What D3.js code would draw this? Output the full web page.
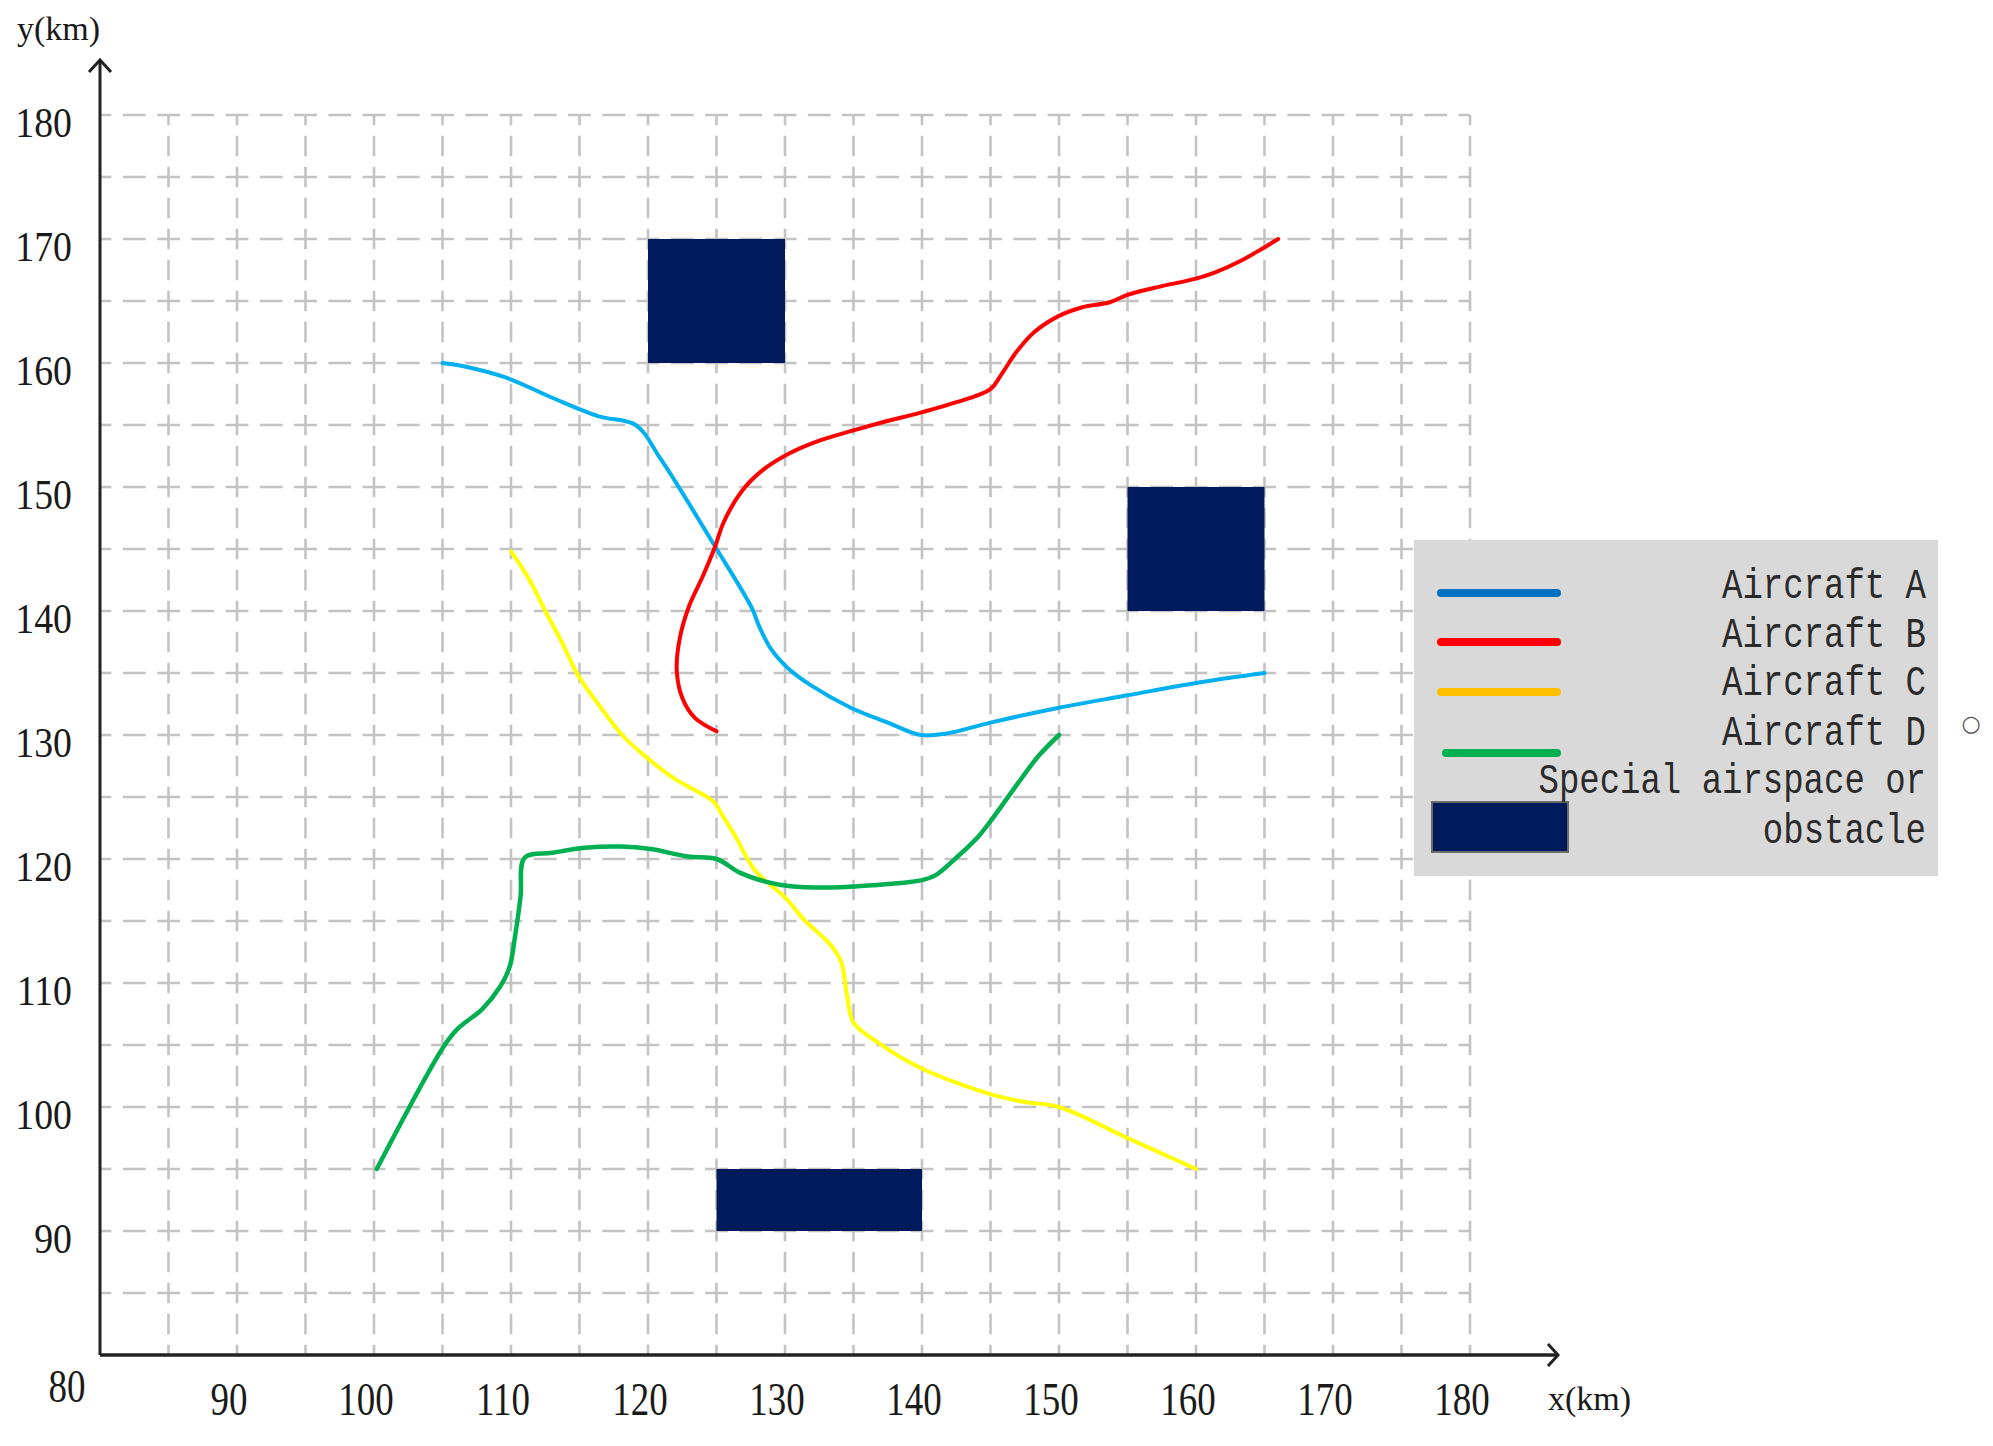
<!DOCTYPE html>
<html>
<head>
<meta charset="utf-8">
<script src="https://cdn.jsdelivr.net/npm/d3@7/dist/d3.min.js"></script>
<style>
  body { margin: 0; background: #fff; }
  .tick-label { font-family: "Liberation Serif", "DejaVu Serif", serif; fill: #1a1a1a; }
  .legend-text { font-family: "Liberation Mono", "DejaVu Sans Mono", monospace; fill: #2a2a2a; }
</style>
</head>
<body>
<div id="chart"></div>
<script>
var width = 1993, height = 1446;

// tick labels
var xTicks = [90, 100, 110, 120, 130, 140, 150, 160, 170, 180];
var yTicks = [90, 100, 110, 120, 130, 140, 150, 160, 170, 180];
var gridStep = 5;

// flight paths (km)
var aX = [105, 106.7, 109.7, 113.0, 116.4, 119.1, 120.9, 124.9, 127.6, 128.1, 129.0, 130.3, 131.9, 134.8, 137.5, 139.9, 141.7, 145.0, 150.0, 155.0, 160.0, 165.0];
var aY = [160, 159.7, 158.8, 157.2, 155.7, 155.0, 152.3, 145.2, 140.2, 138.8, 136.9, 135.3, 134.0, 132.2, 131.0, 130.0, 130.1, 131.0, 132.2, 133.2, 134.2, 135.0];

var bX = [125.0, 123.4, 122.5, 122.1, 122.3, 123.0, 124.0, 124.9, 125.5, 126.8, 128.3, 130.3, 132.4, 134.8, 137.4, 139.9, 142.4, 145.0, 145.75, 146.9, 148.2, 150.0, 151.7, 153.7, 155.0, 157.5, 160.0, 161.4, 163.2, 164.8, 166.0];
var bY = [130.3, 131.4, 133.0, 135.2, 137.7, 140.4, 142.8, 145.2, 147.1, 149.6, 151.3, 152.7, 153.7, 154.5, 155.3, 156.0, 156.8, 157.9, 159.0, 160.9, 162.5, 163.8, 164.5, 164.9, 165.5, 166.2, 166.8, 167.3, 168.2, 169.2, 170.0];

var cX = [110, 111.3, 112.5, 113.7, 114.9, 116.5, 118.2, 120.0, 121.9, 124.0, 124.8, 125.5, 126.4, 127.8, 130.0, 131.4, 133.3, 134.1, 134.5, 135.0, 136.8, 139.8, 142.4, 145.1, 147.5, 150.0, 155.0, 160.0];
var cY = [144.8, 142.6, 140.0, 137.5, 134.8, 132.3, 129.9, 128.1, 126.5, 125.2, 124.6, 123.4, 121.8, 119.1, 116.9, 115.1, 113.1, 111.7, 109.2, 106.8, 105.2, 103.2, 102.0, 101.0, 100.4, 100.0, 97.5, 95.0];

var dX = [100.2, 105.1, 106.1, 107.9, 109.2, 109.9, 110.3, 110.7, 111.0, 113.0, 115.4, 118.0, 120.2, 122.9, 125.0, 126.7, 128.5, 130.4, 133.3, 135.3, 137.8, 140.0, 141.0, 142.6, 144.1, 145.1, 146.8, 148.5, 150.0];
var dY = [95.0, 104.9, 106.3, 107.9, 109.7, 111.3, 113.8, 117.0, 120.1, 120.5, 120.9, 121.0, 120.8, 120.2, 120.0, 118.9, 118.2, 117.8, 117.7, 117.8, 118.0, 118.3, 118.7, 120.2, 121.8, 123.2, 125.8, 128.3, 130.0];

// special airspace / obstacles
var obsX0 = [120, 155, 125];
var obsX1 = [130, 165, 140];
var obsY0 = [160, 140, 90];
var obsY1 = [170, 150, 95];

var seriesNames = ["Aircraft A", "Aircraft B", "Aircraft C", "Aircraft D"];
var plotColors = ["#00b0f0", "#ff0000", "#ffff00", "#00b050"];
var legendColors = ["#0070c0", "#ff0000", "#ffc000", "#00b050"];
var obstacleColor = "#011a5b";

var svg = d3.select("#chart").append("svg")
    .attr("width", width)
    .attr("height", height);

var x = d3.scaleLinear().domain([80, 180]).range([100, 1470]);
var y = d3.scaleLinear().domain([80, 180]).range([1355, 115]);

// dashed grid, drawn cell by cell so dashes cross at the grid points
function dash(L) {
    return [L / 6, L / 6, L / 3, L / 6, L / 6, L].join(" ");
}
var gx = d3.range(80, 181, gridStep), gy = d3.range(80, 181, gridStep);
var grid = svg.append("g").attr("stroke", "#c3c3c3").attr("stroke-width", 2.6);
gy.slice(1).forEach(function (yv) {
    for (var i = 0; i < gx.length - 1; i++) {
        var L = x(gx[i + 1]) - x(gx[i]);
        grid.append("line")
            .attr("x1", x(gx[i])).attr("x2", x(gx[i + 1]))
            .attr("y1", y(yv)).attr("y2", y(yv))
            .attr("stroke-dasharray", dash(L));
    }
});
gx.slice(1).forEach(function (xv) {
    for (var i = 0; i < gy.length - 1; i++) {
        var L = y(gy[i]) - y(gy[i + 1]);
        grid.append("line")
            .attr("x1", x(xv)).attr("x2", x(xv))
            .attr("y1", y(gy[i])).attr("y2", y(gy[i + 1]))
            .attr("stroke-dasharray", dash(L));
    }
});

// obstacles
svg.append("g").selectAll("rect")
    .data(obsX0)
    .enter().append("rect")
    .attr("x", function (d, i) { return x(obsX0[i]); })
    .attr("y", function (d, i) { return y(obsY1[i]); })
    .attr("width", function (d, i) { return x(obsX1[i]) - x(obsX0[i]); })
    .attr("height", function (d, i) { return y(obsY0[i]) - y(obsY1[i]); })
    .attr("fill", obstacleColor);

// flight paths
var paths = [[aX, aY], [bX, bY], [cX, cY], [dX, dY]];
var line = d3.line()
    .x(function (d) { return x(d[0]); })
    .y(function (d) { return y(d[1]); })
    .curve(d3.curveCatmullRom.alpha(0.5));

svg.append("g").selectAll("path")
    .data(paths)
    .enter().append("path")
    .attr("d", function (p) { return line(d3.zip(p[0], p[1])); })
    .attr("fill", "none")
    .attr("stroke", function (d, i) { return plotColors[i]; })
    .attr("stroke-width", function (d, i) { return i == 3 ? 4.5 : 4; })
    .attr("stroke-linecap", "round")
    .attr("stroke-linejoin", "round");

// axes with arrows
var axes = svg.append("g").attr("stroke", "#222").attr("fill", "none").attr("stroke-width", 3);
axes.append("line").attr("x1", x(80)).attr("x2", x(80)).attr("y1", y(80)).attr("y2", 60);
axes.append("path").attr("d", "M" + (x(80) - 11) + ",72L" + x(80) + ",60L" + (x(80) + 11) + ",72");
axes.append("line").attr("x1", x(80)).attr("x2", 1558).attr("y1", y(80)).attr("y2", y(80)).attr("stroke-width", 3.5);
axes.append("path").attr("d", "M1548," + (y(80) - 11) + "L1558," + y(80) + "L1548," + (y(80) + 11));

// tick labels
svg.append("g").selectAll("text")
    .data(xTicks)
    .enter().append("text")
    .attr("class", "tick-label")
    .attr("text-anchor", "middle")
    .attr("font-size", 42)
    .attr("transform", function (d) { return "translate(" + (x(d) - 8) + ",1415) scale(0.88,1.08)"; })
    .text(function (d) { return d; });

svg.append("g").selectAll("text")
    .data(yTicks)
    .enter().append("text")
    .attr("class", "tick-label")
    .attr("text-anchor", "end")
    .attr("font-size", 42)
    .attr("transform", function (d) { return "translate(72," + (y(d) + 22) + ") scale(0.9,1.02)"; })
    .text(function (d) { return d; });

svg.append("text").attr("class", "tick-label")
    .attr("text-anchor", "middle").attr("font-size", 42)
    .attr("transform", "translate(67,1402) scale(0.88,1.08)")
    .text("80");

svg.append("text").attr("class", "tick-label")
    .attr("x", 17).attr("y", 40).attr("font-size", 34)
    .text("y(km)");
svg.append("text").attr("class", "tick-label")
    .attr("x", 1548).attr("y", 1410).attr("font-size", 34)
    .text("x(km)");

// legend
var legend = svg.append("g");
legend.append("rect")
    .attr("x", 1414).attr("y", 540).attr("width", 524).attr("height", 336)
    .attr("fill", "#d9d9d9");

var legendLineY = [593, 642, 692, 753];
var legendLineX0 = [1441, 1441, 1441, 1446];
legend.selectAll(".lg-line")
    .data(seriesNames)
    .enter().append("line")
    .attr("class", "lg-line")
    .attr("x1", function (d, i) { return legendLineX0[i]; })
    .attr("x2", 1557)
    .attr("y1", function (d, i) { return legendLineY[i]; })
    .attr("y2", function (d, i) { return legendLineY[i]; })
    .attr("stroke", function (d, i) { return legendColors[i]; })
    .attr("stroke-width", 8)
    .attr("stroke-linecap", "round");

legend.append("rect")
    .attr("x", 1432).attr("y", 802).attr("width", 136).attr("height", 50)
    .attr("fill", obstacleColor).attr("stroke", "#6b6b6b").attr("stroke-width", 2);

var legendLabels = seriesNames.concat(["Special airspace or", "obstacle"]);
var legendBase = [598, 647, 695, 745, 793, 843];
legend.selectAll(".legend-text")
    .data(legendLabels)
    .enter().append("text")
    .attr("class", "legend-text")
    .attr("text-anchor", "end")
    .attr("font-size", 34)
    .attr("transform", function (d, i) { return "translate(1926," + legendBase[i] + ") scale(1,1.25)"; })
    .text(function (d) { return d; });

svg.append("text")
    .attr("x", 1971).attr("y", 731)
    .attr("text-anchor", "middle")
    .attr("font-family", "DejaVu Sans")
    .attr("font-size", 22)
    .attr("fill", "#555")
    .text("○");
</script>
</body>
</html>
